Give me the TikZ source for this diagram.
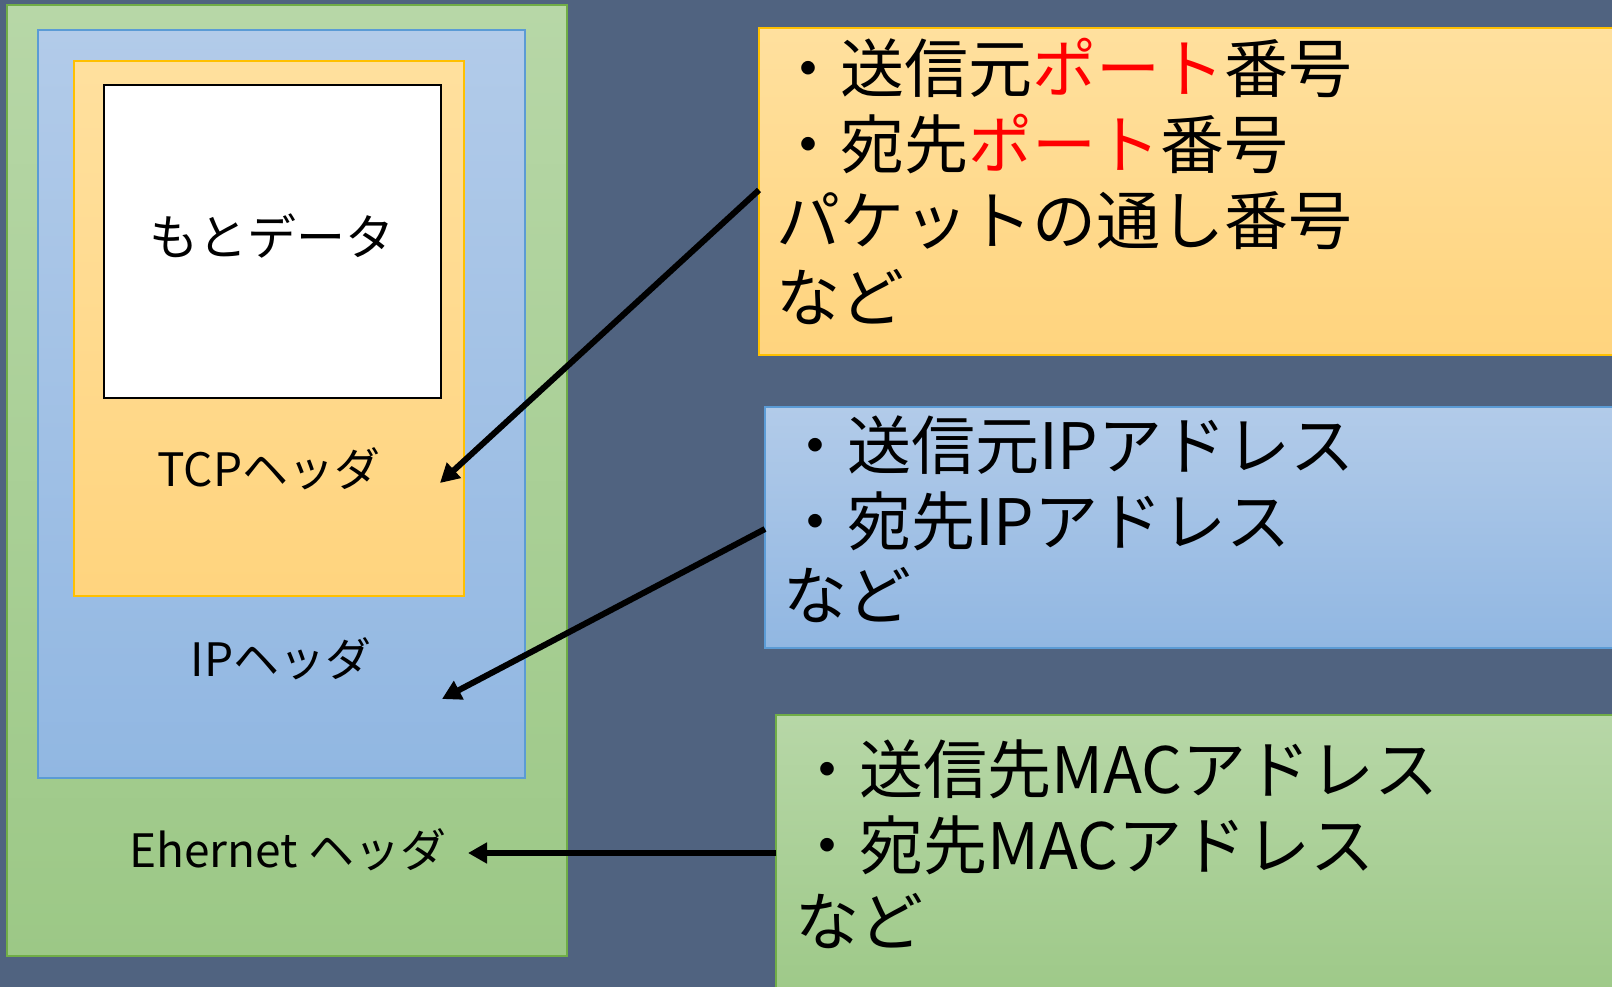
\documentclass[tikz,border=0pt]{standalone}
\usepackage{fontspec}
\setmainfont{Noto Sans CJK JP}
\usetikzlibrary{arrows.meta}
\definecolor{bg}{RGB}{80,99,128}
\definecolor{otop}{RGB}{255,224,158}
\definecolor{obot}{RGB}{255,212,126}
\definecolor{oline}{RGB}{255,192,0}
\definecolor{btop}{RGB}{178,203,233}
\definecolor{bbot}{RGB}{145,183,226}
\definecolor{bline}{RGB}{91,155,213}
\definecolor{gtop}{RGB}{183,215,167}
\definecolor{gbot}{RGB}{156,200,134}
\definecolor{gline}{RGB}{112,173,71}
\definecolor{portred}{RGB}{255,0,0}
\tikzset{
  boxbase/.style={anchor=north west, inner sep=0pt, outer sep=0pt, line width=1.3pt},
  obox/.style={boxbase, draw=oline, top color=otop, bottom color=obot},
  bbox/.style={boxbase, draw=bline, top color=btop, bottom color=bbot},
  gbox/.style={boxbase, draw=gline, top color=gtop, bottom color=gbot},
  databox/.style={boxbase, draw=black, fill=white, line width=2.5pt},
  lbl/.style={font=\fontsize{46}{50}\selectfont, text=black, inner sep=0pt},
  info/.style={font=\fontsize{64}{76}\selectfont, text=black, inner sep=0pt, anchor=base west},
  ptr/.style={line width=6pt, -{Triangle[length=19pt,width=20pt]}},
}
\begin{document}
\begin{tikzpicture}[x=1pt,y=-1pt]
\useasboundingbox (0,0) rectangle (1612,987);
\clip (0,0) rectangle (1612,987);
\fill[bg] (0,0) rectangle (1612,987);

% left nested boxes
\node[gbox, minimum width=560pt, minimum height=951pt] (eth) at (7,5) {};
\node[bbox, minimum width=487pt, minimum height=748pt] (ip) at (38,30) {};
\node[obox, minimum width=390pt, minimum height=535pt] (tcp) at (74,61) {};
\node[databox, minimum width=337pt, minimum height=313pt] (data) at (104,85) {};

\node[lbl, font=\fontsize{49}{52}\selectfont] (datalbl) at (272,236) {もとデータ};
\node[lbl] (tcplbl) at (269,469) {TCPヘッダ};
\node[lbl] (iplbl) at (281,659) {IPヘッダ};
\node[lbl] (ethlbl) at (288,850) {Ehernet ヘッダ};

% right info boxes
\node[obox, minimum width=900pt, minimum height=327pt] (tcpinfo) at (759,28) {};
\node[bbox, minimum width=900pt, minimum height=241pt] (ipinfo) at (765,407) {};
\node[gbox, minimum width=900pt, minimum height=300pt] (ethinfo) at (776,715) {};

\node[info] (t1) at (776,93) {・送信元\textcolor{portred}{ポート}番号};
\node[info] (t2) at (776,169) {・宛先\textcolor{portred}{ポート}番号};
\node[info] (t3) at (776,245) {パケットの通し番号};
\node[info] (t4) at (776,321) {など};

\node[info] (i1) at (783,469) {・送信元IPアドレス};
\node[info] (i2) at (783,545) {・宛先IPアドレス};
\node[info] (i3) at (783,619) {など};

\node[info] (e1) at (795,793) {・送信先MACアドレス};
\node[info] (e2) at (795,869) {・宛先MACアドレス};
\node[info] (e3) at (795,945) {など};

% arrow ends
\coordinate (tcptip) at (440,483);
\coordinate (iptip) at (442,699);
\coordinate (ethtip) at (468,853);
\coordinate (tcpsrc) at (759,190);
\coordinate (ipsrc) at (765,529);
\coordinate (ethsrc) at (776,853);

\draw[ptr] (tcpsrc) -- (tcptip);
\draw[ptr] (ipsrc) -- (iptip);
\draw[ptr] (ethsrc) -- (ethtip);
\end{tikzpicture}
\end{document}
